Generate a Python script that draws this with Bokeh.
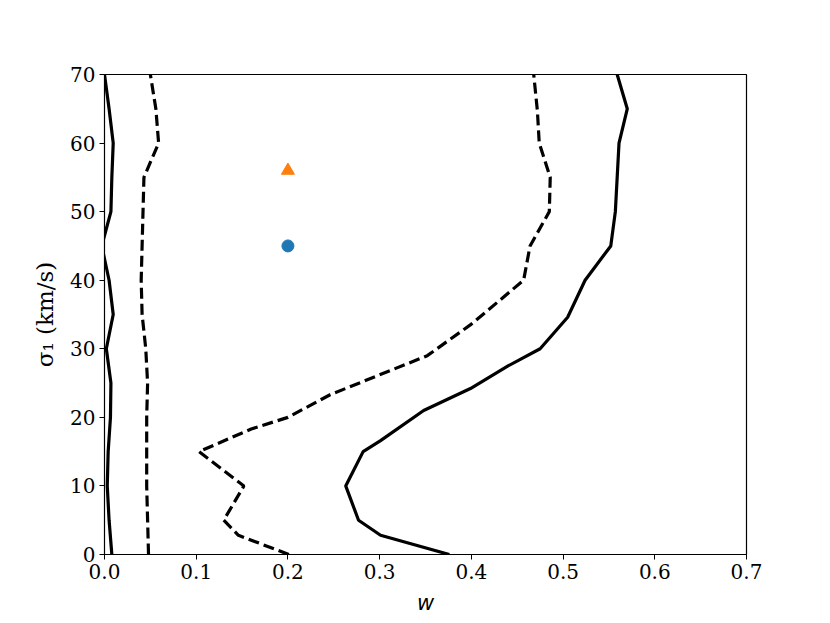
from bokeh.plotting import figure
from bokeh.models import FixedTicker, Range1d, PrintfTickFormatter
from bokeh.embed import file_html
from bokeh.resources import INLINE

# Outer contour (solid): left branch and right branch
solid_left_sigma = [0, 5, 10, 15, 20, 25, 30, 35, 40, 45, 50, 55, 60, 65, 70]
solid_left_w = [0.008, 0.005, 0.003, 0.004, 0.0065, 0.007, 0.002, 0.0095, 0.005, -0.003, 0.007, 0.008, 0.0095, 0.005, 0.0]

solid_right_sigma = [0, 2.8, 5, 10, 15, 16.6, 21, 24.2, 27.5, 30, 34.6, 40, 45, 50, 55, 60, 65, 70]
solid_right_w = [0.376, 0.301, 0.277, 0.263, 0.282, 0.301, 0.348, 0.399, 0.44, 0.475, 0.505, 0.524, 0.552, 0.557, 0.559, 0.561, 0.570, 0.559]

# Inner contour (dashed): left branch and right branch
dashed_left_sigma = [0, 5, 10, 15, 20, 25, 30, 35, 40, 45, 50, 55, 60, 65, 70]
dashed_left_w = [0.048, 0.047, 0.046, 0.046, 0.046, 0.047, 0.045, 0.041, 0.040, 0.041, 0.042, 0.043, 0.059, 0.056, 0.050]

dashed_right_sigma = [0, 2.8, 5, 10, 15, 18.3, 20, 23.3, 29, 33.6, 40, 45, 50, 55, 60, 64.7, 70]
dashed_right_w = [0.201, 0.146, 0.130, 0.152, 0.103, 0.160, 0.200, 0.246, 0.352, 0.400, 0.457, 0.464, 0.485, 0.486, 0.474, 0.472, 0.468]

# Points
circle_w = [0.2]
circle_sigma = [45]
triangle_w = [0.2]
triangle_sigma = [56]

x_ticks = [0.0, 0.1, 0.2, 0.3, 0.4, 0.5, 0.6, 0.7]
y_ticks = [0, 10, 20, 30, 40, 50, 60, 70]

p = figure(frame_width=642, frame_height=480, width=814, height=607,
           output_backend="svg", toolbar_location=None,
           x_range=Range1d(0, 0.7), y_range=Range1d(0, 70),
           min_border_left=104, min_border_right=68, min_border_top=74, min_border_bottom=53)

p.line(solid_left_w, solid_left_sigma, line_color="black", line_width=3.2)
p.line(solid_right_w, solid_right_sigma, line_color="black", line_width=3.2)
p.line(dashed_left_w, dashed_left_sigma, line_color="black", line_width=3.2, line_dash="11 5")
p.line(dashed_right_w, dashed_right_sigma, line_color="black", line_width=3.2, line_dash="11 5")

p.scatter(circle_w, circle_sigma, marker="circle", size=12, color="#1f77b4")
p.scatter(triangle_w, triangle_sigma, marker="triangle", size=13, color="#ff7f0e")

p.grid.visible = False
p.outline_line_color = "black"
p.outline_line_width = 1.2
p.background_fill_color = "white"
p.border_fill_color = "white"

for ax in (p.xaxis[0], p.yaxis[0]):
    ax.major_tick_in = 0
    ax.major_tick_out = 5
    ax.minor_tick_line_color = None
    ax.axis_line_color = "black"
    ax.major_tick_line_color = "black"
    ax.major_label_text_font = "DejaVu Serif"
    ax.major_label_text_font_size = "20px"
    ax.major_label_text_color = "black"
    ax.major_label_standoff = 4
    ax.axis_label_text_font_style = "normal"
    ax.axis_label_text_color = "black"

p.xaxis.ticker = FixedTicker(ticks=x_ticks)
p.xaxis.formatter = PrintfTickFormatter(format="%.1f")
p.yaxis.ticker = FixedTicker(ticks=y_ticks)

p.xaxis.axis_label = "w"
p.xaxis.axis_label_text_font = "DejaVu Sans"
p.xaxis.axis_label_text_font_style = "italic"
p.xaxis.axis_label_text_font_size = "21px"
p.xaxis.axis_label_standoff = 9

p.yaxis.axis_label = "σ₁ (km/s)"
p.yaxis.axis_label_text_font = "DejaVu Serif"
p.yaxis.axis_label_text_font_size = "23px"
p.yaxis.axis_label_standoff = 9

open("out.html", "w").write(file_html(p, INLINE))
